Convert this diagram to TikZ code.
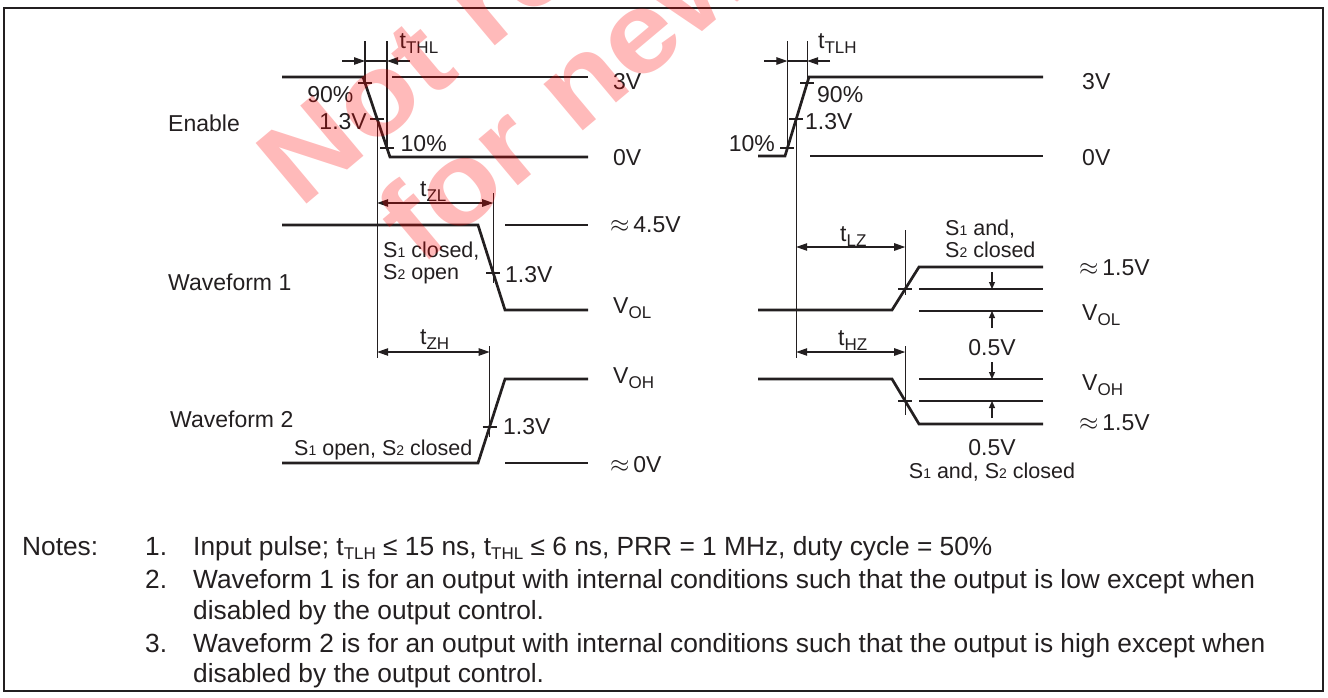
\documentclass[tikz,border=0pt]{standalone}
\usepackage{fontspec}
\setmainfont{Liberation Sans}
\newfontfamily\wmfont[FakeStretch=1.1]{Liberation Sans}
\usetikzlibrary{arrows.meta}
\newcommand\fsz[1]{\fontsize{#1}{#1}\selectfont}
\newcommand\tsb[1]{t\raisebox{-5pt}{\fsz{17}#1}}
\newcommand\vsb[1]{V\raisebox{-5pt}{\fsz{17}#1}}
\newcommand\sn[1]{{\fsz{14}#1}}
\newcommand\nsb[1]{\raisebox{-4pt}{\fsz{17}#1}}
\newcommand\apx{$\approx$}
\definecolor{ink}{RGB}{35,31,32}
\begin{document}
\begin{tikzpicture}[x=1pt,y=-1pt,
  >={Triangle[length=11pt,width=7.5pt]},
  wave/.style={ink,line width=2.7pt},
  refl/.style={ink,line width=1.3pt},
  dim/.style={ink,line width=1.1pt},
  small/.style={ink,line width=1.1pt,-{Triangle[length=7pt,width=6pt]}},
  lb/.style={inner sep=0pt,font=\fsz{23},text=ink},
  lbw/.style={lb,anchor=base west},
  lbe/.style={lb,anchor=base east},
  lbc/.style={lb,anchor=base},
  sw/.style={inner sep=0pt,font=\fsz{21.5},text=ink,anchor=base west},
  sc/.style={inner sep=0pt,font=\fsz{21.5},text=ink,anchor=base},
  nt/.style={inner sep=0pt,font=\fsz{26.3},text=ink,anchor=base west},
  wm/.style={rotate=40,anchor=base west,inner sep=0pt,font=\wmfont\fsz{115}\bfseries,text=red,text opacity=0.27},
]
\useasboundingbox (0,0) rectangle (1328,697);
\draw[ink,line width=2.8pt] (4,8) rectangle (1323,691);

% ---------- Enable, left (falling) ----------
\draw[wave] (282,77) -- (363,77) -- (390,157) -- (588,157);
\draw[refl] (392,77) -- (588,77);
\draw[dim] (365,41) -- (365,85);
\draw[dim] (387,41) -- (387,150);
\draw[dim] (377.2,119) -- (377.2,358);
\draw[dim,->] (342,61) -- (365,61);
\draw[dim] (365,61) -- (387,61);
\draw[dim,->] (410,61) -- (387,61);
\draw[dim] (358,83) -- (372,83);
\draw[dim] (370.2,119) -- (384.2,119);
\draw[dim] (380,148) -- (394,148);
\node[lbw] (tthl) at (399.5,48) {\tsb{THL}};
\node[lbe] (p90a) at (353.5,102) {90\%};
\node[lbe] (v13a) at (367,129) {1.3V};
\node[lbw] (p10a) at (400.5,151) {10\%};
\node[lbw] (v3a) at (613,89) {3V};
\node[lbw] (v0a) at (613,165.5) {0V};
\node[lbw] (en) at (168,131.5) {Enable};

% ---------- Enable, right (rising) ----------
\draw[wave] (758,156) -- (785,156) -- (809,77) -- (1043,77);
\draw[refl] (810,156) -- (1043,156);
\draw[dim] (787.4,41) -- (787.4,150);
\draw[dim] (807.2,41) -- (807.2,85);
\draw[dim] (796.2,119) -- (796.2,358);
\draw[dim,->] (764,61) -- (787.4,61);
\draw[dim] (787.4,61) -- (807.2,61);
\draw[dim,->] (830,61) -- (807.2,61);
\draw[dim] (800.2,83) -- (814.2,83);
\draw[dim] (789.2,119) -- (803.2,119);
\draw[dim] (780.4,148) -- (794.4,148);
\node[lbw] (ttlh) at (818,48) {\tsb{TLH}};
\node[lbw] (p90b) at (817,102) {90\%};
\node[lbw] (v13b) at (805,129) {1.3V};
\node[lbe] (p10b) at (775,151) {10\%};
\node[lbw] (v3b) at (1082,89) {3V};
\node[lbw] (v0b) at (1082,165.5) {0V};

% ---------- Waveform 1, left ----------
\draw[wave] (282,225) -- (478,225) -- (505,310) -- (588,310);
\draw[refl] (505,225) -- (588,225);
\draw[dim] (493.2,193) -- (493.2,283);
\draw[dim,<->] (377.2,203) -- (493.2,203);
\draw[dim] (486.2,273) -- (500.2,273);
\node[lbw] (tzl) at (420,196) {\tsb{ZL}};
\node[sw] (s1c) at (383,257) {S\sn{1} closed,};
\node[sw] (s2o) at (383,279) {S\sn{2} open};
\node[lbw] (v13c) at (505,282) {1.3V};
\node[lbw] (v45) at (610,232) {\apx\,4.5V};
\node[lbw] (volA) at (613,313) {\vsb{OL}};
\node[lbw] (wf1) at (168,290) {Waveform 1};

% ---------- Waveform 2, left ----------
\draw[wave] (282,463) -- (478,463) -- (505,379) -- (588,379);
\draw[refl] (505,463) -- (588,463);
\draw[dim] (489.6,346) -- (489.6,437);
\draw[dim,<->] (377.2,352) -- (489.6,352);
\draw[dim] (482.6,427) -- (496.6,427);
\node[lbw] (tzh) at (420,344) {\tsb{ZH}};
\node[lbw] (v13d) at (503,434) {1.3V};
\node[sw] (s1o) at (294,455) {S\sn{1} open, S\sn{2} closed};
\node[lbw] (vohA) at (613,383) {\vsb{OH}};
\node[lbw] (v0c) at (610,472) {\apx\,0V};
\node[lbw] (wf2) at (170,427) {Waveform 2};

% ---------- Waveform 1, right ----------
\draw[wave] (758,310) -- (892,310) -- (919,267) -- (1043,267);
\draw[refl] (919,289) -- (1043,289);
\draw[refl] (919,311) -- (1043,311);
\draw[dim] (905.2,230) -- (905.2,295);
\draw[dim,<->] (796.2,247) -- (905.2,247);
\draw[dim] (898.2,289) -- (912.2,289);
\draw[small] (992,272) -- (992,289);
\draw[small] (992,328) -- (992,311);
\node[lbw] (tlz) at (840,241.7) {\tsb{LZ}};
\node[sw] (s1a) at (945,235) {S\sn{1} and,};
\node[sw] (s2c) at (945,257.3) {S\sn{2} closed};
\node[lbw] (v15a) at (1079,275) {\apx\,1.5V};
\node[lbw] (volB) at (1082,320) {\vsb{OL}};
\node[lbc] (h05a) at (992,355) {0.5V};

% ---------- Waveform 2, right ----------
\draw[wave] (758,379) -- (892,379) -- (919,424) -- (1043,424);
\draw[refl] (919,379) -- (1043,379);
\draw[refl] (919,401) -- (1043,401);
\draw[dim] (905.2,346) -- (905.2,415);
\draw[dim,<->] (796.2,352) -- (905.2,352);
\draw[dim] (898.2,401) -- (912.2,401);
\draw[small] (992,362) -- (992,379);
\draw[small] (992,418) -- (992,401);
\node[lbw] (thz) at (838,345) {\tsb{HZ}};
\node[lbw] (vohB) at (1082,390) {\vsb{OH}};
\node[lbw] (v15b) at (1079,430) {\apx\,1.5V};
\node[lbc] (h05b) at (992,455) {0.5V};
\node[sc] (s12) at (992,478) {S\sn{1} and, S\sn{2} closed};

% ---------- Notes ----------
\node[nt] (notes) at (22,555.5) {Notes:};
\node[nt] (n1) at (145,555.5) {1.};
\node[nt] (n1t) at (193,555.5) {Input pulse; t\nsb{TLH} ≤ 15 ns, t\nsb{THL} ≤ 6 ns, PRR = 1 MHz, duty cycle = 50\%};
\node[nt] (n2) at (145,588.5) {2.};
\node[nt] (n2t) at (193,588.5) {Waveform 1 is for an output with internal conditions such that the output is low except when};
\node[nt] (n2u) at (193,619) {disabled by the output control.};
\node[nt] (n3) at (145,652.5) {3.};
\node[nt] (n3t) at (193,652.5) {Waveform 2 is for an output with internal conditions such that the output is high except when};
\node[nt] (n3u) at (193,682.5) {disabled by the output control.};

% ---------- watermark ----------
\begin{scope}
\clip (0,0) rectangle (1328,697);
\node[wm] (wm1) at (300,210) {Not recommended};
\node[wm] (wm2) at (420,268) {for new designs};
\end{scope}
\end{tikzpicture}
\end{document}
